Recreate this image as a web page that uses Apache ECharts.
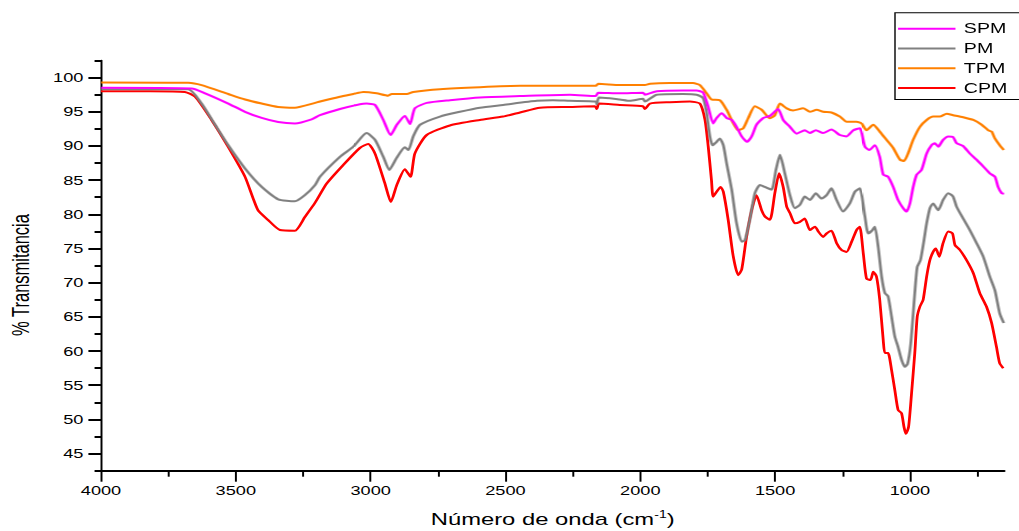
<!DOCTYPE html>
<html>
<head>
<meta charset="utf-8">
<script src="https://cdn.jsdelivr.net/npm/echarts@6/dist/echarts.min.js"></script>
<style>
html,body{margin:0;padding:0;background:#fff;overflow:hidden;width:1019px;height:531px;}
#chart{position:absolute;left:0;top:0;height:531px;transform-origin:0 0;}
</style>
</head>
<body>
<div id="chart"></div>
<script>
// ---- data (wavenumber cm-1, % transmittance) ----
const seriesNames = ['SPM', 'PM', 'TPM', 'CPM'];
const seriesColors = ['#FF00FF', '#808080', '#FF8000', '#FF0000'];

const spmWn = [4000,3664,3614,3528,3466,3404,3343,3281,3219,3188,3114,3040,3015,2984,2953,2926,2903,2873,2854,2836,2792,2706,2595,2446,2261,2165,2156,2076,1990,1983,1939,1841,1791,1767,1748,1730,1717,1698,1680,1661,1643,1624,1604,1587,1569,1544,1519,1489,1470,1445,1420,1390,1371,1349,1322,1291,1260,1235,1210,1186,1167,1151,1130,1112,1099,1081,1062,1044,1025,1012,1000,988,975,957,938,920,908,895,877,858,840,827,803,778,753,728,704,685,673,660,651];
const spmT  = [98.5,98.4,97.7,96.2,95.0,94.1,93.5,93.3,93.9,94.5,95.4,96.1,96.2,96.0,93.8,91.6,93.1,94.4,93.2,95.5,96.3,96.7,97.1,97.3,97.5,97.3,97.8,97.7,97.8,97.5,98.0,98.1,98.1,97.8,95.7,93.3,94.1,94.8,94.1,93.8,92.8,91.4,90.6,91.4,93.1,94.1,94.4,95.4,93.8,92.8,91.8,92.3,91.9,92.3,91.9,92.4,91.6,91.4,92.3,92.6,89.9,89.4,90.1,88.4,85.8,85.5,84.0,82.1,80.9,80.4,81.6,84.0,85.8,86.5,88.9,90.1,90.4,89.9,90.9,91.4,91.3,90.4,90.0,88.9,88.0,87.0,86.0,85.5,84.0,83.1,83.0];

const pmWn = [4000,3677,3627,3577,3528,3466,3404,3343,3281,3244,3206,3188,3114,3064,3015,2984,2953,2931,2903,2873,2860,2842,2817,2743,2669,2595,2509,2384,2324,2261,2165,2161,2153,2076,2039,1990,1983,1939,1842,1791,1767,1754,1742,1732,1717,1705,1692,1680,1661,1643,1624,1612,1594,1575,1556,1538,1513,1497,1482,1464,1445,1427,1408,1390,1371,1349,1328,1309,1291,1272,1248,1223,1204,1186,1167,1155,1139,1130,1118,1105,1093,1081,1068,1056,1044,1031,1019,1009,997,982,973,961,948,938,926,914,895,877,858,840,827,803,778,753,728,704,685,667,652];
const pmT  = [98.3,98.3,96.2,93.1,90.1,86.7,84.0,82.2,81.9,82.8,84.3,85.5,88.4,89.9,91.9,90.9,88.4,86.5,88.3,89.8,89.4,91.4,93.1,94.3,95.0,95.6,96.0,96.6,96.7,96.6,96.5,96.1,97.1,96.8,96.6,96.9,96.5,97.5,97.6,97.5,97.0,94.8,91.4,90.1,90.6,91.1,90.1,87.5,83.6,78.7,76.0,76.2,79.2,83.1,84.3,84.0,83.6,86.5,88.7,86.0,82.8,80.9,81.4,82.6,82.1,83.1,82.3,82.8,83.8,82.1,80.4,81.6,83.3,83.8,79.7,77.2,77.7,78.2,75.3,70.9,68.5,68.0,65.0,62.1,60.6,58.7,57.7,58.1,61.1,68.5,72.3,73.3,76.2,78.7,80.9,81.6,80.6,82.1,83.1,82.6,81.1,79.4,77.7,75.8,73.8,70.9,68.9,65.5,64.1];

const tpmWn = [4000,3676,3627,3528,3466,3404,3343,3281,3206,3188,3114,3064,3027,2978,2935,2922,2866,2842,2743,2595,2446,2261,2165,2156,2076,1983,1964,1890,1804,1779,1754,1736,1705,1680,1655,1637,1618,1600,1575,1550,1519,1501,1482,1457,1433,1396,1371,1346,1322,1291,1260,1235,1198,1179,1161,1136,1112,1087,1062,1037,1022,1007,988,963,938,914,889,864,840,803,765,734,710,697,685,667,652];
const tpmT  = [99.3,99.25,98.9,97.6,96.8,96.2,95.7,95.6,96.3,96.5,97.2,97.6,97.9,97.7,97.35,97.6,97.6,97.9,98.3,98.6,98.8,98.8,98.8,99.1,98.9,98.9,99.1,99.2,99.2,98.9,97.7,96.8,96.7,95.3,93.3,92.3,92.6,94.05,95.8,95.3,94.05,94.5,96.2,95.5,95.2,95.5,95.0,95.3,95.0,94.9,94.3,93.55,93.55,93.3,92.3,93.1,92.1,90.9,89.7,88.0,87.8,88.9,90.9,92.8,93.8,94.3,94.3,94.7,94.5,94.2,93.8,93.1,92.3,92.1,91.1,90.1,89.4];

const cpmWn = [4000,3818,3689,3651,3590,3529,3466,3418,3381,3336,3281,3244,3206,3163,3102,3040,3009,2984,2947,2925,2903,2873,2852,2836,2792,2706,2595,2509,2446,2372,2261,2168,2161,2153,2076,1990,1983,1964,1890,1816,1779,1760,1748,1736,1730,1717,1702,1692,1674,1655,1637,1624,1606,1587,1569,1550,1538,1519,1501,1485,1470,1457,1445,1427,1408,1390,1371,1352,1340,1322,1309,1291,1272,1254,1235,1216,1198,1186,1173,1161,1146,1136,1124,1112,1099,1093,1081,1068,1056,1044,1031,1022,1015,1005,994,982,973,963,951,938,926,914,904,891,877,858,842,833,815,790,765,741,716,697,679,667,654];
const cpmT  = [98.0,98.0,97.9,97.2,93.8,89.9,85.5,80.6,79.2,77.7,77.6,79.6,81.7,84.5,87.2,89.7,90.3,88.9,84.5,81.8,84.3,86.6,85.5,88.9,91.6,93.0,93.8,94.3,94.9,95.6,95.7,95.8,95.4,96.2,96.0,95.8,95.4,96.2,96.4,96.5,96.2,93.8,89.9,85.0,82.6,83.3,84.0,83.3,79.2,73.8,71.1,71.9,76.7,80.6,82.8,80.6,79.7,79.2,83.1,86.0,84.0,81.1,80.2,78.7,78.9,79.4,77.7,78.2,77.5,76.7,77.2,77.6,75.8,74.8,74.5,76.0,77.7,78.2,74.3,70.6,70.4,71.6,70.9,67.5,61.6,59.7,59.7,57.2,54.3,51.4,50.9,48.9,47.9,48.9,53.8,59.7,65.0,66.5,67.5,70.9,73.3,74.5,75.0,73.8,75.8,77.5,77.2,75.5,74.8,73.3,71.4,68.5,66.5,64.1,60.6,58.2,57.5];

// ---- axes / ticks ----
const xMin = 650, xMax = 4000;
const yMin = 42.5, yMax = 102.5;
const xMajorTicks = [1000,1500,2000,2500,3000,3500,4000];
const xMinorTicks = [750,1250,1750,2250,2750,3250,3750];
const yMajorTicks = [45,50,55,60,65,70,75,80,85,90,95,100];
const yMinorTicks = [42.5,47.5,52.5,57.5,62.5,67.5,72.5,77.5,82.5,87.5,92.5,97.5,102.5];

const xTitle = 'Número de onda (cm{sup|-1})';
const yTitle = '% Transmitancia';

// ---- layout (the reference image is horizontally stretched) ----
const S = 1.4;
const W = 1019 / S, H = 531;
const el = document.getElementById('chart');
el.style.width = W + 'px';
el.style.transform = 'scaleX(' + S + ')';

const FONT = '"Liberation Sans", Arial, sans-serif';
const gridL = 101 / S, gridR = 14.7 / S, gridT = 60.5, gridB = 60.3;

function zip(a, b) { return a.map((v, i) => [v, b[i]]); }
const allWn = [spmWn, pmWn, tpmWn, cpmWn];
const allT = [spmT, pmT, tpmT, cpmT];

const chart = echarts.init(el, null, { renderer: 'svg', width: W, height: H });

const option = {
  animation: false,
  backgroundColor: '#fff',
  grid: { left: gridL, right: gridR, top: gridT, bottom: gridB },
  legend: {
    show: true,
    orient: 'vertical',
    left: 895 / S,
    top: 12.7,
    data: seriesNames,
    itemWidth: 41,
    itemHeight: 14,
    itemGap: 5.8,
    padding: [9, 9, 4.5, 1.2],
    borderColor: '#000',
    borderWidth: 1,
    itemStyle: { opacity: 0 },
    textStyle: { fontFamily: FONT, fontSize: 14, color: '#000', padding: [0, 0, 0, 1] }
  },
  xAxis: [
    {
      type: 'value', min: xMin, max: xMax, inverse: true, position: 'bottom',
      axisLine: { show: true, onZero: false, lineStyle: { color: '#000', width: 1.8 } },
      axisTick: { show: true, customValues: xMajorTicks, length: 11, lineStyle: { color: '#000', width: 1.4 } },
      axisLabel: { customValues: xMajorTicks, margin: 13, fontFamily: FONT, fontSize: 13, color: '#000',
                   formatter: v => String(v) },
      splitLine: { show: false }
    },
    {
      type: 'value', min: xMin, max: xMax, inverse: true, position: 'bottom',
      axisLine: { show: false },
      axisTick: { show: true, customValues: xMinorTicks, length: 6, lineStyle: { color: '#000', width: 1.4 } },
      axisLabel: { show: false },
      splitLine: { show: false }
    }
  ],
  yAxis: [
    {
      type: 'value', min: yMin, max: yMax, position: 'left',
      axisLine: { show: true, onZero: false, lineStyle: { color: '#000', width: 1.4 } },
      axisTick: { show: true, customValues: yMajorTicks, length: 9, lineStyle: { color: '#000', width: 2 } },
      axisLabel: { customValues: yMajorTicks, margin: 12.6, fontFamily: FONT, fontSize: 13, color: '#000',
                   formatter: v => String(v) },
      splitLine: { show: false }
    },
    {
      type: 'value', min: yMin, max: yMax, position: 'left',
      axisLine: { show: false },
      axisTick: { show: true, customValues: yMinorTicks, length: 4.6, lineStyle: { color: '#000', width: 2 } },
      axisLabel: { show: false },
      splitLine: { show: false }
    }
  ],
  graphic: [
    {
      type: 'text', x: gridL + (W - gridL - gridR) / 2, y: 519,
      style: {
        text: xTitle, fontFamily: FONT, fontSize: 17, fill: '#000',
        align: 'center', verticalAlign: 'middle',
        rich: { sup: { fontFamily: FONT, fontSize: 10, fill: '#000', verticalAlign: 'top', padding: [0, 0, 9, 0] } }
      }
    },
    {
      type: 'text', x: 20.8 / S, y: 275, rotation: Math.PI / 2,
      style: { text: yTitle, fontFamily: FONT, fontSize: 16.5, fill: '#000', align: 'center', verticalAlign: 'middle' }
    }
  ],
  series: seriesNames.map((name, i) => ({
    name: name,
    type: 'line',
    xAxisIndex: 0,
    yAxisIndex: 0,
    data: zip(allWn[i], allT[i]),
    symbol: 'none',
    smooth: 0.2,
    clip: true,
    lineStyle: { color: seriesColors[i], width: 2 },
    itemStyle: { color: seriesColors[i] },
    z: 2 + (seriesNames.length - i)
  }))
};
chart.setOption(option);
</script>
</body>
</html>
